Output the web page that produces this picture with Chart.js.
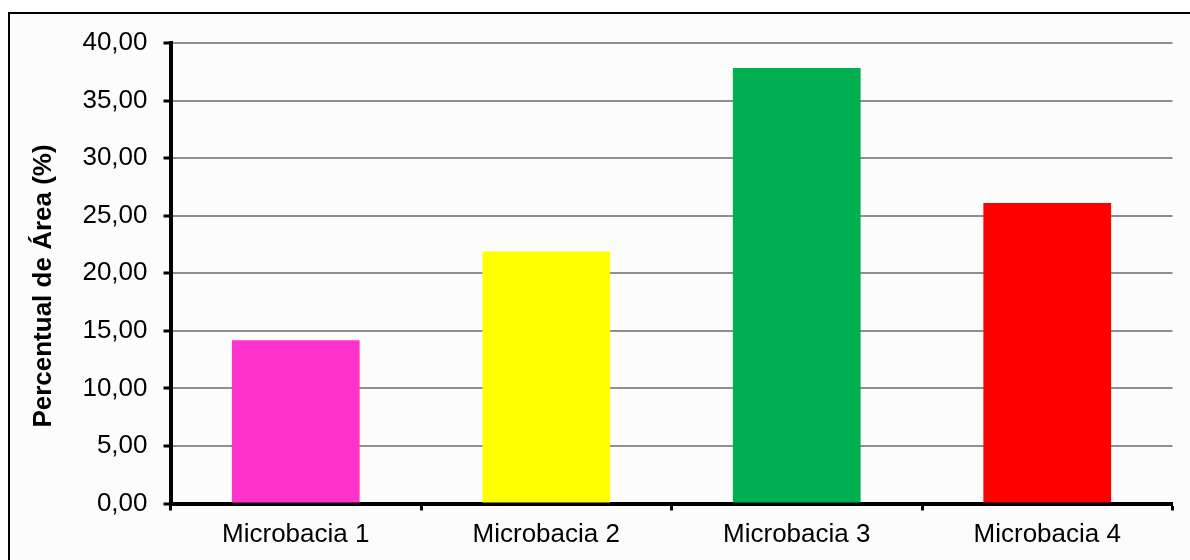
<!DOCTYPE html>
<html>
<head>
<meta charset="utf-8">
<script src="https://cdn.jsdelivr.net/npm/chart.js@4/dist/chart.umd.min.js"></script>
<style>
  html, body { margin: 0; padding: 0; background: #ffffff; }
  #wrap { width: 1190px; height: 560px; }
  canvas { display: block; }
</style>
</head>
<body>
<div id="wrap"><canvas id="c" width="1190" height="560"></canvas></div>
<script>
// Area share of each micro-watershed (%)
const categories = ['Microbacia 1', 'Microbacia 2', 'Microbacia 3', 'Microbacia 4'];
const areaPercent = [14.18, 21.90, 37.82, 26.10];
const barColors = ['#ff33cc', '#ffff00', '#00b050', '#ff0000'];
const yTicks = [0, 5, 10, 15, 20, 25, 30, 35, 40];
const yTitle = 'Percentual de Área (%)';

const FONT = '"Liberation Sans", Arial, Helvetica, sans-serif';

// Frame, panel background and the rotated axis title
const framePlugin = {
  id: 'frame',
  beforeDraw(chart) {
    const ctx = chart.ctx;
    ctx.save();
    ctx.fillStyle = '#ffffff';
    ctx.fillRect(0, 0, chart.width, chart.height);
    ctx.fillStyle = '#fcfcfc';
    ctx.fillRect(9, 13, chart.width, chart.height);
    ctx.strokeStyle = '#000000';
    ctx.lineWidth = 2;
    ctx.strokeRect(9, 13, chart.width + 20, chart.height + 20);
    ctx.restore();
  },
  afterDraw(chart) {
    const ctx = chart.ctx;
    ctx.save();
    ctx.translate(44, 286);
    ctx.rotate(-Math.PI / 2);
    ctx.fillStyle = '#000000';
    ctx.font = 'bold 26px ' + FONT;
    ctx.textAlign = 'center';
    ctx.textBaseline = 'middle';
    ctx.fillText(yTitle, 0, 0);
    ctx.restore();
  }
};

new Chart(document.getElementById('c'), {
  type: 'bar',
  data: {
    labels: categories,
    datasets: [{
      data: areaPercent,
      backgroundColor: barColors,
      borderWidth: 0,
      categoryPercentage: 1.0,
      barPercentage: 0.51
    }]
  },
  options: {
    responsive: false,
    devicePixelRatio: 1,
    animation: false,
    layout: { padding: { left: 0, top: 43, right: 17.5, bottom: 0 } },
    plugins: {
      legend: { display: false },
      tooltip: { enabled: false }
    },
    scales: {
      x: {
        offset: true,
        grid: {
          offset: true,
          drawOnChartArea: false,
          drawTicks: true,
          tickLength: 7,
          tickColor: '#000000',
          tickWidth: 3
        },
        border: { display: true, color: '#000000', width: 4 },
        ticks: {
          color: '#000000',
          font: { family: FONT, size: 26 },
          padding: 9,
          maxRotation: 0,
          autoSkip: false
        },
        afterFit(scale) { scale.height = 560 - 503.5; }
      },
      y: {
        min: 0,
        max: 40,
        afterBuildTicks(scale) { scale.ticks = yTicks.map(v => ({ value: v })); },
        grid: {
          color: '#8f8f8f',
          lineWidth: 2,
          drawTicks: true,
          tickLength: 7,
          tickColor: '#000000',
          tickWidth: 3
        },
        border: { display: true, color: '#000000', width: 4 },
        ticks: {
          color: '#000000',
          font: { family: FONT, size: 26 },
          padding: 16,
          callback: v => v.toFixed(2).replace('.', ',')
        },
        afterFit(scale) { scale.width = 170.5; }
      }
    }
  },
  plugins: [framePlugin]
});
</script>
</body>
</html>
